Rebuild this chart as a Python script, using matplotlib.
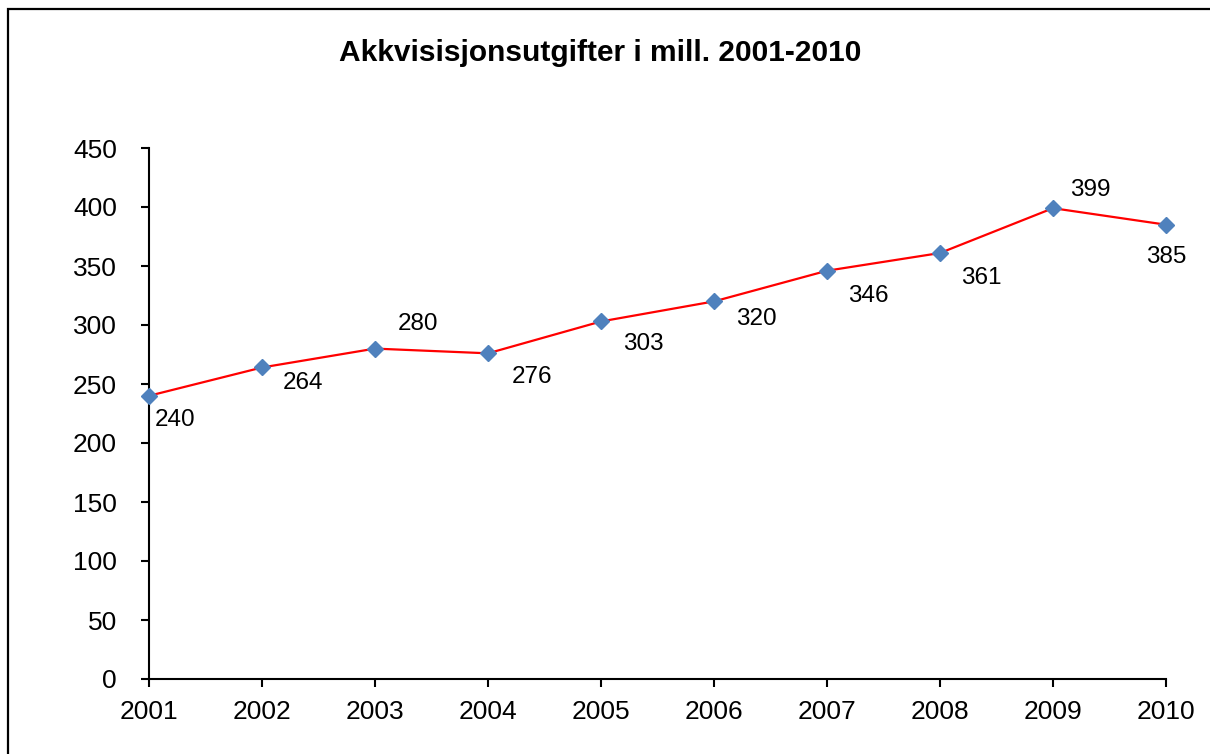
import matplotlib
matplotlib.use("Agg")
import matplotlib.pyplot as plt
from matplotlib.patches import Rectangle

years = [2001, 2002, 2003, 2004, 2005, 2006, 2007, 2008, 2009, 2010]
values = [240, 264, 280, 276, 303, 320, 346, 361, 399, 385]
# label offsets in pixels (dx, dy)
label_offsets = [(26, -24), (41, -16), (43, 25), (44, -24), (42, -23),
                 (42, -18), (41, -25), (41, -25), (37, 18), (0, -32)]

plt.rcParams['font.family'] = ['Liberation Sans', 'DejaVu Sans']

fig = plt.figure(figsize=(12.1, 7.54), dpi=100)
ax = fig.add_axes([149/1210, 75/754, (1166-149)/1210, (679-148)/754])

ax.plot(years, values, color='#FF0000', lw=1.6, marker='D', markersize=8.5,
        markerfacecolor='#4F81BD', markeredgecolor='#4F81BD', clip_on=False, zorder=3)

for x, v, (dx, dy) in zip(years, values, label_offsets):
    ax.annotate(str(v), (x, v), xytext=(dx * 0.72, dy * 0.72), textcoords='offset points',
                ha='center', va='center', fontsize=17.5, color='black')

ax.set_xlim(2001, 2010)
ax.set_ylim(0, 450)
ax.set_yticks(range(0, 451, 50))
ax.set_xticks(years)
ax.set_xticklabels([str(y) for y in years])
ax.spines['top'].set_visible(False)
ax.spines['right'].set_visible(False)
for s in ('left', 'bottom'):
    ax.spines[s].set_linewidth(1.5)
ax.tick_params(axis='both', direction='out', length=6, width=1.5, labelsize=19)
ax.tick_params(axis='y', pad=17)
ax.tick_params(axis='x', pad=9)

fig.text(600/1210, 1 - 53/754, 'Akkvisisjonsutgifter i mill. 2001-2010', ha='center', va='center',
         fontsize=21.5, fontweight='bold')

fig.patches.append(Rectangle((8/1210, -0.1), 1.2, 1 - 9/754 + 0.1, transform=fig.transFigure,
                             fill=False, edgecolor='black', lw=1.6))

fig.savefig('out.png', dpi=100)
